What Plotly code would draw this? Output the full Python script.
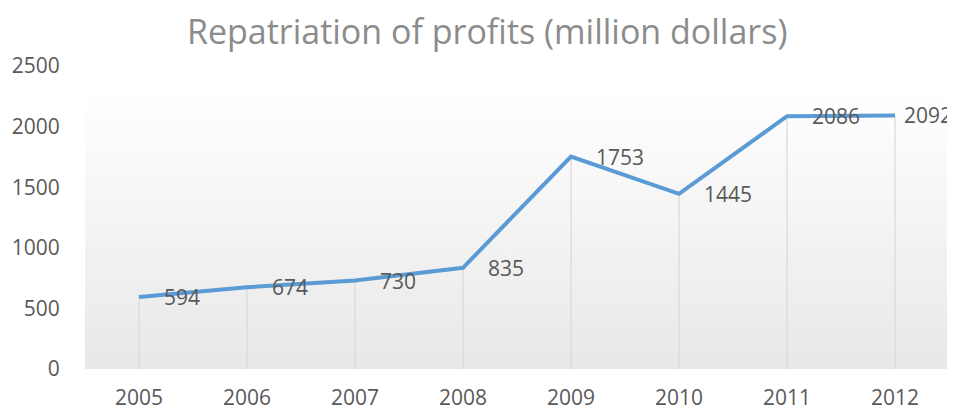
import base64
import plotly.graph_objects as go

years = ["2005", "2006", "2007", "2008", "2009", "2010", "2011", "2012"]
profits = [594, 674, 730, 835, 1753, 1445, 2086, 2092]
y_ticks = [0, 500, 1000, 1500, 2000, 2500]

title_text = "Repatriation of profits (million dollars)"
font_name = "Open Sans"
label_grey = "#595959"
line_blue = "#5b9bd5"

# the page body adds an 8px margin, so the figure is sized/shifted to suit
W, H = 947, 401

# plot-area gradient (white at top -> light grey at bottom)
svg = ('<svg xmlns="http://www.w3.org/2000/svg" width="10" height="100" preserveAspectRatio="none">'
       '<defs><linearGradient id="g" x1="0" y1="0" x2="0" y2="1">'
       '<stop offset="0" stop-color="#ffffff"/><stop offset="0.08" stop-color="#ffffff"/>'
       '<stop offset="1" stop-color="#e8e8e8"/></linearGradient></defs>'
       '<rect width="10" height="100" fill="url(#g)"/></svg>')
bg_src = "data:image/svg+xml;base64," + base64.b64encode(svg.encode()).decode()

fig = go.Figure()

# drop lines from each point down to the axis
fig.add_trace(go.Scatter(
    x=years, y=profits, mode="markers",
    marker=dict(size=1, opacity=0),
    error_y=dict(type="data", symmetric=False, array=[0] * len(profits),
                 arrayminus=profits, width=0, color="#d9d9d9", thickness=1.2),
    hoverinfo="skip", showlegend=False,
))

fig.add_trace(go.Scatter(
    x=years, y=profits, mode="lines",
    line=dict(color=line_blue, width=4),
    showlegend=False,
))

# data labels to the right of each point (category index positions)
for i, v in enumerate(profits):
    fig.add_annotation(
        x=i, y=v, xref="x", yref="y", text=str(v), showarrow=False,
        xanchor="left", yanchor="middle",
        xshift=7 if i == len(profits) - 1 else 23,
        font=dict(family=font_name, size=21, color=label_grey),
    )

fig.update_layout(
    width=W, height=H,
    margin=dict(l=77, r=6, t=58, b=40),
    paper_bgcolor="white",
    plot_bgcolor="white",
    title=dict(text=title_text, x=0.506, xanchor="center",
               y=1 - 24 / H, yanchor="middle", yref="container",
               font=dict(family=font_name, size=34, color="#8c8c8c")),
    images=[dict(source=bg_src, xref="paper", yref="paper", x=0, y=1,
                 sizex=1, sizey=1, sizing="stretch", layer="below",
                 xanchor="left", yanchor="top")],
    font=dict(family=font_name, color=label_grey),
)

fig.update_xaxes(
    type="category", range=[-0.5, len(years) - 0.5], automargin=False,
    showgrid=False, showline=False, zeroline=False,
    ticks="outside", ticklen=10, tickcolor="rgba(0,0,0,0)",
    tickfont=dict(family=font_name, size=21, color=label_grey),
)
fig.update_yaxes(
    range=[0, 2500], tickvals=y_ticks, automargin=False,
    showgrid=False, showline=False, zeroline=False,
    ticks="outside", ticklen=20, tickcolor="rgba(0,0,0,0)",
    tickfont=dict(family=font_name, size=21, color=label_grey),
)

fig.write_html("out.html")
